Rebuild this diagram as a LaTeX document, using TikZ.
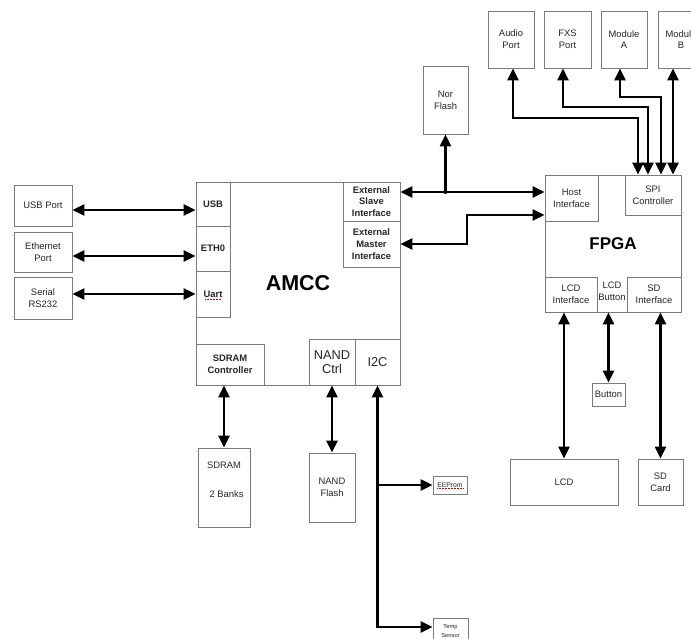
\documentclass[tikz,border=0pt]{standalone}
\usepackage{fontspec}
\setmainfont{Liberation Sans}
\usetikzlibrary{arrows.meta,calc}
\definecolor{boxgray}{HTML}{7A7A7A}
\definecolor{txt}{HTML}{262626}
\begin{document}
\begin{tikzpicture}[x=1pt,y=-1pt,
  box/.style={draw=boxgray, line width=0.9pt, inner sep=0pt, align=center, text=txt,
    font=\fontsize{9.4}{11.8}\selectfont},
  bbox/.style={box, font=\bfseries\fontsize{9.4}{11.8}\selectfont},
  plain/.style={inner sep=0pt, align=center, text=txt, font=\fontsize{9.4}{11.8}\selectfont},
  bi/.style={line width=2.6pt, {Triangle[length=12pt,width=11pt]}-{Triangle[length=12pt,width=11pt]}},
  ra/.style={line width=2.6pt, -{Triangle[length=12pt,width=11pt]}},
  squig/.style={red!80!black, line width=0.5pt, densely dotted}
]
\clip (0,0) rectangle (691,639);
\fill[white] (0,0) rectangle (691,639);

% left ports
\node[box, minimum width=58pt, minimum height=41pt] (usbport) at (43,205.5) {USB Port};
\node[box, minimum width=58pt, minimum height=40pt] (ethport) at (43,252.5) {Ethernet\\Port};
\node[box, minimum width=58pt, minimum height=42pt] (serial) at (43,298) {Serial\\RS232};

% AMCC
\node[box, minimum width=204pt, minimum height=203pt, font=\bfseries\fontsize{21.5}{23}\selectfont, text=black] (amcc) at (298,283.5) {AMCC};
\node[bbox, minimum width=34pt, minimum height=44pt] (usbsub) at (213,204) {USB};
\node[bbox, minimum width=34pt, minimum height=45pt] (ethsub) at (213,248.5) {ETH0};
\node[bbox, minimum width=34pt, minimum height=46pt] (uart) at (213,294) {Uart};
\draw[squig] ([xshift=-8pt,yshift=-5pt]uart.center) -- ([xshift=8pt,yshift=-5pt]uart.center);
\node[bbox, minimum width=57pt, minimum height=39pt] (slave) at (371.5,201.5) {External\\Slave\\Interface};
\node[bbox, minimum width=57pt, minimum height=46pt] (master) at (371.5,244) {External\\Master\\Interface};
\node[bbox, minimum width=68pt, minimum height=41pt] (sdramc) at (230,364.5) {SDRAM\\Controller};
\node[box, minimum width=46pt, minimum height=46pt, font=\fontsize{12.8}{13.5}\selectfont] (nandc) at (332,362) {NAND\\Ctrl};
\node[box, minimum width=45pt, minimum height=46pt, font=\fontsize{12.8}{13.5}\selectfont] (i2c) at (377.5,362) {I2C};

% Nor flash
\node[box, minimum width=45pt, minimum height=68pt] (norflash) at (445.5,100) {Nor\\Flash};

% top modules
\node[box, minimum width=46pt, minimum height=57pt] (audio) at (511,39.5) {Audio\\Port};
\node[box, minimum width=47pt, minimum height=57pt] (fxs) at (567.5,39.5) {FXS\\Port};
\node[box, minimum width=46pt, minimum height=57pt] (moda) at (624,39.5) {Module\\A};
\node[box, minimum width=46pt, minimum height=57pt] (modb) at (681,39.5) {Module\\B};

% FPGA
\node[box, minimum width=136pt, minimum height=137pt, font=\bfseries\fontsize{17}{19}\selectfont, text=black] (fpga) at (613,243.5) {FPGA};
\node[box, minimum width=53pt, minimum height=46pt] (host) at (571.5,198) {Host\\Interface};
\node[box, minimum width=56pt, minimum height=40pt] (spi) at (653,195) {SPI\\Controller};
\node[box, minimum width=52pt, minimum height=35pt] (lcdi) at (571,294.5) {LCD\\Interface};
\node[box, minimum width=54pt, minimum height=35pt] (sdi) at (654,294.5) {SD\\Interface};
\node[plain] (lcdb) at (612,291) {LCD\\Button};

% bottom devices
\node[box, minimum width=52pt, minimum height=79pt] (sdram) at (224,487.5) {};
\node[plain] (sdramtxt) at ([yshift=8pt]sdram.center) {SDRAM\\[17pt]\ \ 2 Banks};
\node[box, minimum width=46pt, minimum height=69pt] (nandf) at (332,487.5) {NAND\\Flash};
\node[box, minimum width=34pt, minimum height=18pt, font=\fontsize{6.8}{7}\selectfont] (eeprom) at (450,485) {EEProm};
\draw[squig] ([xshift=-13pt,yshift=-3.5pt]eeprom.center) -- ([xshift=13pt,yshift=-3.5pt]eeprom.center);
\node[box, minimum width=35pt, minimum height=27pt, font=\fontsize{5.8}{9}\selectfont] (temp) at (450.5,631.5) {Temp\\Sensor};
\node[box, minimum width=108pt, minimum height=46pt] (lcd) at (564,482) {LCD};
\node[box, minimum width=45pt, minimum height=46pt] (sdcard) at (660.5,482) {SD\\Card};
\node[box, minimum width=33pt, minimum height=23pt] (button) at (608.5,394.5) {Button};

% left connections
\draw[bi] ([yshift=-4.5pt]usbport.east) -- ([yshift=-4.5pt]usbport.east -| usbsub.west);
\draw[bi] ([yshift=-3.5pt]ethport.east) -- ([yshift=-3.5pt]ethport.east -| ethsub.west);
\draw[bi] ([yshift=4pt]serial.east) -- ([yshift=4pt]serial.east -| uart.west);

% bus to FPGA host interface
\draw[bi] ([yshift=9.5pt]slave.east) -- ([yshift=9.5pt]slave.east -| host.west);
\coordinate (j) at (445.5,192);
\draw[ra] (j) -- (norflash.south);
\fill (j) circle (2pt);
\draw[bi] (master.east) -- (467,244) |- ([yshift=-17pt]host.west);

% SPI connections
\draw[bi] ([xshift=2pt]audio.south) |- (638,118) -- ([xshift=-15pt]spi.north);
\draw[bi] ([xshift=-4.5pt]fxs.south) |- (648,107) -- ([xshift=-5pt]spi.north);
\draw[bi] ([xshift=-4pt]moda.south) |- (661,97) -- ([xshift=8pt]spi.north);
\draw[bi] ([xshift=-8pt]modb.south) -- ([xshift=20pt]spi.north);

% AMCC bottom
\draw[bi] (sdram.north |- sdramc.south) -- (sdram.north);
\draw[bi] (nandc.south) -- (nandf.north);
\draw[bi] (i2c.south) -- ([yshift=4.5pt]temp.west -| i2c.south) -- ([yshift=4.5pt]temp.west);
\draw[ra] (eeprom.west -| i2c.south) -- (eeprom.west);

% FPGA bottom
\draw[bi] (lcd.north |- lcdi.south) -- (lcd.north);
\draw[bi] (button.north |- fpga.south) -- (button.north);
\draw[bi] (sdcard.north |- sdi.south) -- (sdcard.north);
\end{tikzpicture}
\end{document}
